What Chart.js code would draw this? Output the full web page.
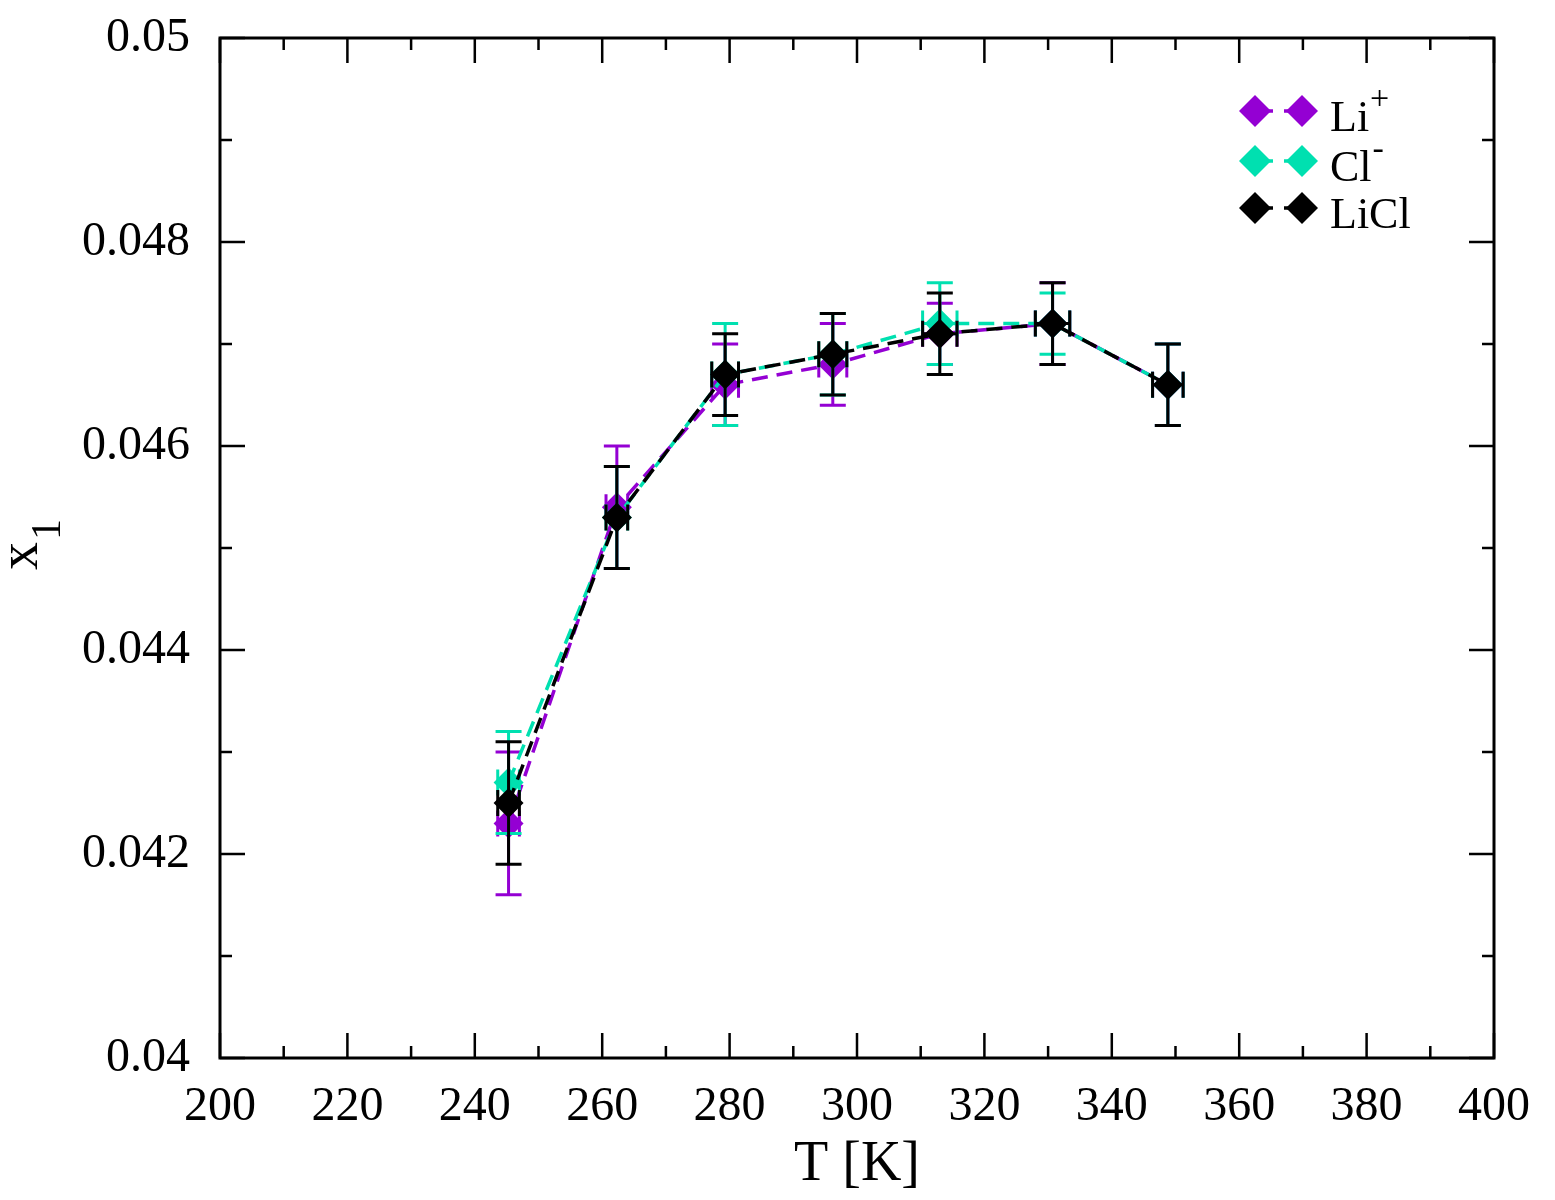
<!DOCTYPE html>
<html><head><meta charset="utf-8">
<script src="https://cdn.jsdelivr.net/npm/chart.js@4.4.0/dist/chart.umd.min.js"></script>
<style>html,body{margin:0;padding:0;background:#fff}#wrap{width:1555px;height:1200px;position:relative}</style>
</head><body><div id="wrap"><canvas id="c" width="1555" height="1200"></canvas></div>
<script>
// ---- data ----
const temps      = [245.3, 262.3, 279.3, 296.2, 313.0, 330.7, 348.8];
const tempErr    = [1.7, 1.7, 2.1, 2.2, 2.7, 2.7, 2.4];
const liValues   = [0.0423, 0.0454, 0.0466, 0.0468, 0.0471, 0.0472, 0.0466];
const liErr      = [0.0007, 0.0006, 0.0004, 0.0004, 0.0003, 0.0004, 0.0004];
const clValues   = [0.0427, 0.0453, 0.0467, 0.0469, 0.0472, 0.0472, 0.0466];
const clErr      = [0.0005, 0.0005, 0.0005, 0.0004, 0.0004, 0.0003, 0.0004];
const liclValues = [0.0425, 0.0453, 0.0467, 0.0469, 0.0471, 0.0472, 0.0466];
const liclErr    = [0.0006, 0.0005, 0.0004, 0.0004, 0.0004, 0.0004, 0.0004];
const seriesNames = ['Li', 'Cl', 'LiCl'];
const seriesSup   = ['+', '-', ''];
const xMin = 200, xMax = 400, xStep = 20, xMinorStep = 10;
const yMin = 0.04, yMax = 0.05, yStep = 0.002, yMinorStep = 0.001;
const xTitle = 'T [K]';
const yTitleMain = 'x', yTitleSub = '1';

const colors = ['rgb(148,0,211)', 'rgb(0,224,176)', '#000000'];
const FONT = '"Liberation Serif", "Times New Roman", serif';

function pts(vals) { return temps.map((t, i) => ({x: t, y: vals[i]})); }
const allVals = [liValues, clValues, liclValues];
const allErr = [liErr, clErr, liclErr];

const datasets = allVals.map((v, k) => ({
  label: seriesNames[k] + seriesSup[k],
  data: pts(v),
  showLine: true,
  borderColor: colors[k],
  backgroundColor: colors[k],
  pointBackgroundColor: colors[k],
  pointBorderColor: colors[k],
  pointBorderWidth: 0,
  pointStyle: 'rectRot',
  pointRadius: 15,
  pointHoverRadius: 15,
  borderWidth: 3.5,
  borderDash: [16, 9],
  tension: 0,
  order: 3 - k,
  errY: allErr[k]
}));

const decor = {
  id: 'decor',
  afterDatasetDraw(chart, args) {
    const ds = chart.data.datasets[args.index];
    const xs = chart.scales.x, ys = chart.scales.y;
    const ctx = chart.ctx;
    ctx.save();
    ctx.strokeStyle = ds.borderColor;
    ctx.lineWidth = 3;
    ctx.setLineDash([]);
    const cap = 13;
    ds.data.forEach((p, i) => {
      const px = xs.getPixelForValue(p.x);
      const py = ys.getPixelForValue(p.y);
      const yt = ys.getPixelForValue(p.y + ds.errY[i]);
      const yb = ys.getPixelForValue(p.y - ds.errY[i]);
      const xl = xs.getPixelForValue(p.x - tempErr[i]);
      const xr = xs.getPixelForValue(p.x + tempErr[i]);
      ctx.beginPath();
      ctx.moveTo(px, yt); ctx.lineTo(px, yb);
      ctx.moveTo(px - cap, yt); ctx.lineTo(px + cap, yt);
      ctx.moveTo(px - cap, yb); ctx.lineTo(px + cap, yb);
      ctx.moveTo(xl, py); ctx.lineTo(xr, py);
      ctx.moveTo(xl, py - cap); ctx.lineTo(xl, py + cap);
      ctx.moveTo(xr, py - cap); ctx.lineTo(xr, py + cap);
      ctx.stroke();
    });
    ctx.restore();
  },
  afterDraw(chart) {
    const ctx = chart.ctx;
    const a = chart.chartArea;
    const xs = chart.scales.x, ys = chart.scales.y;
    ctx.save();
    ctx.strokeStyle = '#000';
    ctx.setLineDash([]);
    // ticks
    ctx.lineWidth = 2.5;
    ctx.beginPath();
    for (let v = xMin; v <= xMax + 1e-9; v += xMinorStep) {
      const major = Math.abs(((v - xMin) / xStep) - Math.round((v - xMin) / xStep)) < 1e-6;
      const L = major ? 25 : 12;
      const px = xs.getPixelForValue(v);
      ctx.moveTo(px, a.bottom); ctx.lineTo(px, a.bottom - L);
      ctx.moveTo(px, a.top); ctx.lineTo(px, a.top + L);
    }
    for (let k = 0; k <= Math.round((yMax - yMin) / yMinorStep); k++) {
      const v = yMin + k * yMinorStep;
      const major = k % Math.round(yStep / yMinorStep) === 0;
      const L = major ? 25 : 12;
      const py = ys.getPixelForValue(v);
      ctx.moveTo(a.left, py); ctx.lineTo(a.left + L, py);
      ctx.moveTo(a.right, py); ctx.lineTo(a.right - L, py);
    }
    ctx.stroke();
    // frame
    ctx.lineWidth = 3;
    ctx.strokeRect(a.left, a.top, a.right - a.left, a.bottom - a.top);

    // axis titles
    ctx.fillStyle = '#000';
    ctx.font = '56px ' + FONT;
    ctx.textAlign = 'center';
    ctx.textBaseline = 'alphabetic';
    ctx.fillText(xTitle, (a.left + a.right) / 2, 1180);

    ctx.save();
    ctx.rotate(-Math.PI / 2);
    ctx.textAlign = 'left';
    ctx.font = '56px ' + FONT;
    const wx = ctx.measureText(yTitleMain).width;
    const u0 = -570;
    ctx.fillText(yTitleMain, u0, 37);
    ctx.font = '42px ' + FONT;
    ctx.fillText(yTitleSub, u0 + wx + 2, 60);
    ctx.restore();

    // legend
    const rowsY = [111, 161, 208];
    const lx1 = 1255, lx2 = 1302;
    for (let k = 0; k < 3; k++) {
      const y = rowsY[k];
      ctx.strokeStyle = colors[k];
      ctx.fillStyle = colors[k];
      ctx.lineWidth = 3.5;
      ctx.beginPath();
      ctx.moveTo(lx1, y); ctx.lineTo(1273, y);
      ctx.moveTo(1284, y); ctx.lineTo(lx2, y);
      ctx.stroke();
      [lx1, lx2].forEach(cx => {
        ctx.beginPath();
        ctx.moveTo(cx, y - 16); ctx.lineTo(cx + 16, y); ctx.lineTo(cx, y + 16); ctx.lineTo(cx - 16, y);
        ctx.closePath(); ctx.fill();
      });
      ctx.fillStyle = '#000';
      ctx.textAlign = 'left';
      ctx.font = '44px ' + FONT;
      const base = y + 20;
      ctx.fillText(seriesNames[k], 1330, base);
      const w = ctx.measureText(seriesNames[k]).width;
      if (seriesSup[k]) {
        ctx.font = '34px ' + FONT;
        ctx.fillText(seriesSup[k], 1330 + w + 1, base - 22);
      }
    }
    ctx.restore();
  }
};

new Chart(document.getElementById('c'), {
  type: 'scatter',
  data: { datasets },
  plugins: [decor],
  options: {
    responsive: false,
    animation: false,
    devicePixelRatio: 1,
    layout: { padding: { left: 0, top: 38, right: 61, bottom: 0 } },
    plugins: { legend: { display: false }, tooltip: { enabled: false } },
    scales: {
      x: {
        type: 'linear', min: xMin, max: xMax,
        grid: { display: false, drawTicks: false },
        border: { display: false },
        ticks: { stepSize: xStep, padding: 21, color: '#000', font: { family: FONT, size: 48 }, maxRotation: 0 },
        afterFit(s) { s.height = 142; s.paddingLeft = 0; s.paddingRight = 0; }
      },
      y: {
        type: 'linear', min: yMin, max: yMax,
        grid: { display: false, drawTicks: false },
        border: { display: false },
        ticks: { stepSize: yStep, padding: 30, color: '#000', font: { family: FONT, size: 48 },
          callback: v => String(Number(v.toFixed(4))) },
        afterFit(s) { s.width = 220; s.paddingTop = 0; s.paddingBottom = 0; }
      }
    }
  }
});
</script>
</body></html>
